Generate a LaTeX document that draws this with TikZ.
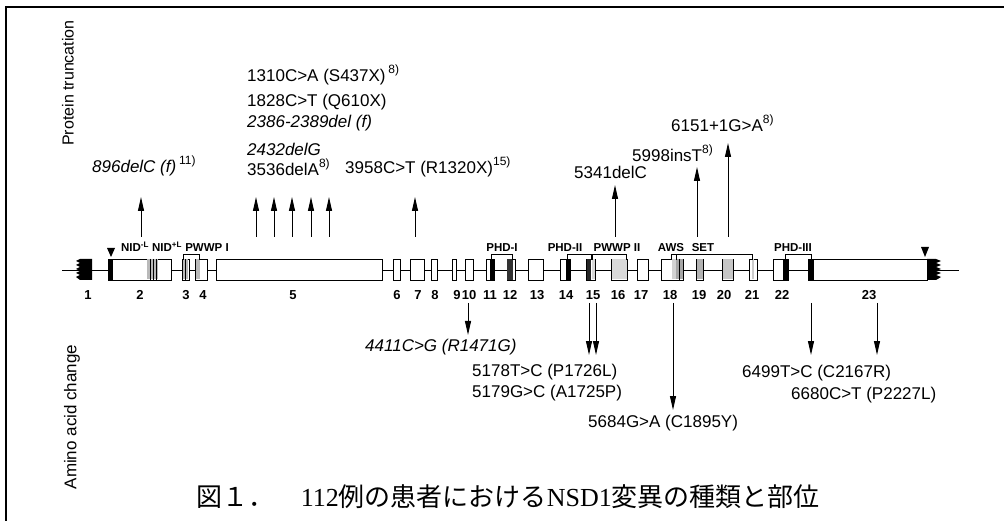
\documentclass[tikz,border=0pt]{standalone}
\usepackage{fontspec}
\setmainfont{Liberation Sans}
\newfontfamily\cjk{Noto Sans CJK JP}
\newfontfamily\capserif{Liberation Serif}
\usetikzlibrary{arrows.meta}

\newcommand{\refno}[1]{\raisebox{0.5em}{\fontsize{12}{12}\selectfont #1}}

\begin{document}
\begin{tikzpicture}[x=1pt,y=-1pt,
  exon/.style={draw,line width=0.8pt,fill=white},
  hatch/.style={fill=gray!55},
  dots/.style={fill=gray!30},
  mut/.style={-{Triangle[length=14pt,width=6pt]},line width=1pt},
  lab/.style={font=\fontsize{17}{19}\selectfont,inner sep=0pt,anchor=west},
  dom/.style={font=\bfseries\fontsize{11.5}{12}\selectfont,inner sep=0pt},
  num/.style={font=\bfseries\fontsize{13}{14}\selectfont,inner sep=0pt}]
  \useasboundingbox (0,0) rectangle (1004,521);
  % frame
  \draw[line width=2pt] (6,521) -- (6,7) -- (1004,7);
  \node[font=\fontsize{16}{18}\selectfont,rotate=90] (truncside) at (68,83) {Protein truncation};
  \node[font=\fontsize{17}{19}\selectfont,rotate=90] (aaside) at (72,417) {Amino acid change};

  % gene
  \draw[line width=0.8pt] (62,270) -- (959,270);
  \foreach \a/\b in {108/171,182/189,195/207,216/382,393/400,410/424,431/437,452/456,
    465/473,486/494,507/515,528/543,560/570,586/595,611/627,637/648,661/683,
    696/703,722/733,749/757,773/788,808/927}
    \draw[exon] (\a,259) rectangle (\b,280);
  % coloured bands
  \fill (108,259) rectangle (113,280);
  \fill[hatch] (147,259.5) rectangle (158,279.5);
  \foreach \x in {150,153,156} \draw[line width=0.4pt] (\x,259) -- (\x,280);
  \fill[hatch] (183,259.5) rectangle (188,279.5);
  \draw[line width=0.4pt] (185.5,259) -- (185.5,280);
  \fill[hatch] (196,259.5) rectangle (200,279.5);
  \fill (490,259) rectangle (493.5,280);
  \fill[black!80] (507,259) rectangle (513,280);
  \fill (566,259) rectangle (570,280);
  \fill[black!85] (587,259) rectangle (591,280);
  \fill[dots] (591.5,259.5) rectangle (594.5,279.5);
  \fill[dots] (611.5,259.5) rectangle (626.5,279.5);
  \fill[gray!35] (672,259.5) rectangle (676,279.5);
  \fill[gray!70] (676,259.5) rectangle (682.5,279.5);
  \draw[line width=0.4pt] (679,259) -- (679,280);
  \fill[gray!60] (696.5,259.5) rectangle (702.5,279.5);
  \fill[gray!45] (722.5,259.5) rectangle (732.5,279.5);
  \fill[gray!40] (752,259.5) rectangle (754,279.5);
  \fill (783,259) rectangle (788,280);
  \fill (808,259) rectangle (814,280);
  % ragged ends
  \fill (92,259) -- (80,259) -- (76,261) -- (80,263) -- (76,265) -- (80,267) -- (76,269)
    -- (80,271) -- (76,273) -- (80,275) -- (76,277) -- (80,280) -- (92,280) -- cycle;
  \fill (927,259) -- (936,259) -- (941,261) -- (936,263) -- (941,265) -- (936,267) -- (941,269)
    -- (936,271) -- (941,273) -- (936,275) -- (941,277) -- (936,280) -- (927,280) -- cycle;
  % start / stop
  \fill (107,248) -- (115,248) -- (111,257) -- cycle;
  \fill (921,247) -- (929,247) -- (925,257) -- cycle;

  % domains
  \foreach \a/\b in {183/199,491/512,567/591,592/626,671/676,676/752,785/811}
    \draw[line width=0.7pt] (\a,260) -- (\a,254) -- (\b,254) -- (\b,260);
  \node[dom] (nidm) at (135,247) {NID\textsuperscript{-L}};
  \node[dom] (nidp) at (167,247) {NID\textsuperscript{+L}};
  \node[dom] (pwwpa) at (207,248) {PWWP I};
  \node[dom] (phda) at (502,248) {PHD-I};
  \node[dom] (phdb) at (565,248) {PHD-II};
  \node[dom] (pwwpb) at (617,248) {PWWP II};
  \node[dom] (aws) at (671,248) {AWS};
  \node[dom] (set) at (703,248) {SET};
  \node[dom] (phdc) at (793,248) {PHD-III};

  % exon numbers
  \foreach \x/\n in {88/1,140/2,186/3,203/4,293/5,397/6,418/7,435/8,457/9,469/10,490/11,
    510/12,537/13,566/14,593/15,618/16,641/17,670/18,699/19,724/20,752/21,782/22,869/23}
    \node[num] (ex\n) at (\x,295) {\n};

  % truncating mutations
  \node[lab] (t1310) at (247,75) {1310C>A (S437X)\,\refno{8)}};
  \node[lab] (t1828) at (247,102) {1828C>T (Q610X)};
  \node[lab] (t2386) at (247,123) {\itshape 2386-2389del (f)};
  \node[lab] (t2432) at (247,149) {\itshape 2432delG};
  \node[lab] (t3536) at (247,167) {3536delA\refno{8)}};
  \node[lab] (t896) at (92,166) {\itshape 896delC (f)\,\upshape\refno{11)}};
  \node[lab] (t3958) at (345,167) {3958C>T (R1320X)\refno{15)}};
  \node[lab] (t5341) at (574,172) {5341delC};
  \node[lab] (t5998) at (632,153) {5998insT\refno{8)}};
  \node[lab] (t6151) at (671,123) {6151+1G>A\refno{8)}};
  \foreach \x/\t [count=\i] in {141/197,256/197,274/197,292/197,311/197,329/197,
    415/197,615/185,697/167,728/143} {
    \coordinate (ua\i) at (\x,237);
    \coordinate (ub\i) at (\x,\t);
    \draw[mut] (ua\i) -- (ub\i);
  }

  % missense mutations
  \node[lab] (t4411) at (365,347) {\itshape 4411C>G (R1471G)};
  \node[lab] (t5178) at (472,372) {5178T>C (P1726L)};
  \node[lab] (t5179) at (472,393) {5179G>C (A1725P)};
  \node[lab] (t5684) at (588,423) {5684G>A (C1895Y)};
  \node[lab] (t6499) at (742,373) {6499T>C (C2167R)};
  \node[lab] (t6680) at (791,395) {6680C>T (P2227L)};
  \foreach \x/\t [count=\i] in {468/335,589/355,596/355,673/410,811/355,877/355} {
    \coordinate (da\i) at (\x,303);
    \coordinate (db\i) at (\x,\t);
    \draw[mut] (da\i) -- (db\i);
  }

  % caption
  \node[anchor=east,inner sep=0pt,font=\fontsize{26}{28}\selectfont] (caption) at (820,497)
    {\cjk 図１．　{\capserif 112}例の患者における{\capserif NSD1}変異の種類と部位};
\end{tikzpicture}
\end{document}
